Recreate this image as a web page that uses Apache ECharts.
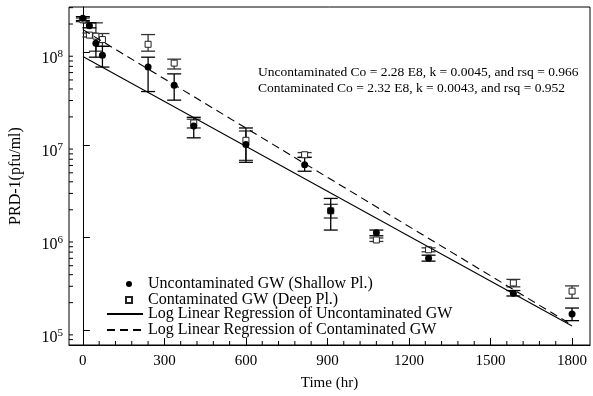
<!DOCTYPE html>
<html>
<head>
<meta charset="utf-8">
<script src="https://cdn.jsdelivr.net/npm/echarts@6/dist/echarts.min.js"></script>
<style>
  html, body { margin: 0; padding: 0; background: #fff; }
  #chart { width: 593px; height: 396px; }
</style>
</head>
<body>
<div id="chart"></div>
<script>
// Sampling times (hr)
const hours = [0, 24, 48, 72, 240, 336, 408, 600, 816, 912, 1080, 1272, 1584, 1800];

// Uncontaminated groundwater (shallow plume), PRD-1 pfu/ml
const uncontaminated     = [2.31e8, 1.92e8, 1.24e8, 9.23e7, 6.88e7, 4.37e7, 1.60e7, 1.01e7, 6.12e6, 1.95e6, 1.13e6, 6.03e5, 2.52e5, 1.51e5];
const uncontaminatedLow  = [2.18e8, 1.82e8, 8.79e7, 6.88e7, 3.75e7, 3.03e7, 1.19e7, 6.49e6, 5.20e6, 1.21e6, 1.05e6, 5.60e5, 2.36e5, 1.28e5];
const uncontaminatedHigh = [2.40e8, 2.06e8, 1.43e8, 1.15e8, 8.79e7, 5.81e7, 1.98e7, 1.52e7, 7.33e6, 2.65e6, 1.21e6, 6.49e5, 2.70e5, 1.75e5];

// Contaminated groundwater (deep plume), PRD-1 pfu/ml
const contaminated     = [2.22e8, 1.52e8, 1.48e8, 1.36e8, 1.21e8, 7.59e7, 1.72e7, 1.12e7, 7.82e6, 1.95e6, 9.46e5, 7.42e5, 3.26e5, 2.66e5];
const contaminatedLow  = [2.12e8, 1.45e8, 1.02e8, 1.15e8, 1.02e8, 6.56e7, 1.52e7, 6.81e6, 7.33e6, 1.63e6, 9.12e5, 7.06e5, 2.96e5, 2.23e5];
const contaminatedHigh = [2.32e8, 1.60e8, 2.06e8, 1.58e8, 1.54e8, 8.37e7, 1.89e7, 1.41e7, 8.26e6, 2.29e6, 9.94e5, 7.78e5, 3.56e5, 3.03e5];

// Log-linear regression lines (end points)
const fitHours = [0, 1800];
const fitUncontaminated = [8.94e7, 1.12e5];
const fitContaminated   = [1.74e8, 1.15e5];

// Axis ticks
const xTickValues = [0, 300, 600, 900, 1200, 1500, 1800];

const annotationLines = [
  'Uncontaminated Co = 2.28 E8, k = 0.0045, and rsq = 0.966',
  'Contaminated Co = 2.32 E8, k = 0.0043, and rsq = 0.952'
];

const NAME_UNC = 'Uncontaminated GW (Shallow Pl.)';
const NAME_CON = 'Contaminated GW (Deep Pl.)';
const NAME_FIT_UNC = 'Log Linear Regression of Uncontaminated GW';
const NAME_FIT_CON = 'Log Linear Regression of Contaminated GW';

const X_MIN = -51, X_MAX = 1866;
const Y_MIN = 7.0e4, Y_MAX = 3.05e8;
const FONT = '"Liberation Serif", "DejaVu Serif", serif';

// minor tick positions
const xMinorTicks = [];
for (let t = 60; t < 1800; t += 60) if (t % 300 !== 0) xMinorTicks.push(t);
const yMinorTicks = [];
for (let d = 4; d <= 8; d++) {
  for (let m = 2; m <= 9; m++) {
    const v = m * Math.pow(10, d);
    if (v > Y_MIN && v < Y_MAX) yMinorTicks.push(v);
  }
}

const pairs = (xs, ys) => xs.map((x, i) => [x, ys[i]]);
const bars = (xs, lo, hi) => xs.map((x, i) => [x, lo[i], hi[i]]);

function errorBar(color) {
  return function (params, api) {
    const x = api.value(0);
    const pLo = api.coord([x, api.value(1)]);
    const pHi = api.coord([x, api.value(2)]);
    const w = 7;
    const st = { stroke: color, lineWidth: 1.3 };
    return {
      type: 'group',
      children: [
        { type: 'line', shape: { x1: pLo[0], y1: pLo[1], x2: pHi[0], y2: pHi[1] }, style: st },
        { type: 'line', shape: { x1: pLo[0] - w, y1: pLo[1], x2: pLo[0] + w, y2: pLo[1] }, style: st },
        { type: 'line', shape: { x1: pHi[0] - w, y1: pHi[1], x2: pHi[0] + w, y2: pHi[1] }, style: st }
      ]
    };
  };
}

const legendText = { fontFamily: FONT, fontSize: 16, color: '#000', lineHeight: 14 };
const hiddenDot = { color: 'rgba(0,0,0,0)', borderColor: 'rgba(0,0,0,0)', borderWidth: 0 };

const chart = echarts.init(document.getElementById('chart'), null, { renderer: 'canvas' });

chart.setOption({
  animation: false,
  backgroundColor: '#fff',
  textStyle: { fontFamily: FONT },
  grid: { left: 66, right: 3, top: 7, bottom: 48, show: true, borderColor: '#000', borderWidth: 1, backgroundColor: 'transparent' },
  xAxis: {
    type: 'value',
    min: X_MIN, max: X_MAX,
    name: 'Time (hr)',
    nameLocation: 'middle',
    nameGap: 31,
    nameTextStyle: { fontFamily: FONT, fontSize: 15, color: '#000' },
    axisLine: { show: true, lineStyle: { color: '#000', width: 1 } },
    axisTick: { show: true, inside: true, length: 7, lineStyle: { color: '#000' }, customValues: xTickValues },
    axisLabel: {
      show: true, color: '#000', fontFamily: FONT, fontSize: 15, margin: 9,
      customValues: xTickValues,
      formatter: v => String(v)
    },
    splitLine: { show: false }
  },
  yAxis: {
    type: 'log',
    logBase: 10,
    min: Y_MIN, max: Y_MAX,
    name: 'PRD-1(pfu/ml)',
    nameLocation: 'middle',
    nameGap: 45,
    nameTextStyle: { fontFamily: FONT, fontSize: 16, color: '#000' },
    axisLine: { show: true, lineStyle: { color: '#000', width: 1 } },
    axisTick: { show: true, inside: true, length: 7, lineStyle: { color: '#000' } },
    axisLabel: {
      show: true, margin: 6, color: '#000',
      padding: [14, 0, 0, 0],
      showMinLabel: false, showMaxLabel: false,
      formatter: function (v) {
        const e = Math.log10(v);
        if (Math.abs(e - Math.round(e)) > 1e-6) return '';
        return '{b|10}{s|' + Math.round(e) + '}';
      },
      rich: {
        b: { fontFamily: FONT, fontSize: 16, color: '#000' },
        s: { fontFamily: FONT, fontSize: 11, color: '#000', padding: [0, 0, 10, 0] }
      }
    },
    splitLine: { show: false }
  },
  legend: [
    {
      orient: 'vertical',
      left: 125, top: 276, padding: 0,
      itemWidth: 6, itemHeight: 6, itemGap: 0,
      textStyle: Object.assign({ padding: [0, 0, 0, 11] }, legendText),
      data: [
        { name: NAME_UNC, icon: 'circle' },
        { name: NAME_CON, icon: 'rect' }
      ]
    },
    {
      orient: 'vertical',
      left: 106, top: 306, padding: 0,
      itemWidth: 36, itemHeight: 2, itemGap: 0,
      textStyle: legendText,
      data: [
        { name: NAME_FIT_UNC, itemStyle: hiddenDot },
        { name: NAME_FIT_CON, itemStyle: hiddenDot }
      ]
    }
  ],
  graphic: annotationLines.map((t, i) => ({
    type: 'text',
    left: 258, top: 65 + i * 16,
    style: { text: t, fontFamily: FONT, fontSize: 13.5, fill: '#000' }
  })),
  series: [
    {
      type: 'custom', name: 'x minor ticks', silent: true,
      data: xMinorTicks.map(t => [t, Y_MIN]),
      renderItem: function (params, api) {
        const p = api.coord([api.value(0), Y_MIN]);
        return { type: 'line', shape: { x1: p[0], y1: p[1], x2: p[0], y2: p[1] - 4 }, style: { stroke: '#000', lineWidth: 1 } };
      }
    },
    {
      type: 'custom', name: 'y minor ticks', silent: true,
      data: yMinorTicks.map(v => [X_MIN, v]),
      renderItem: function (params, api) {
        const p = api.coord([X_MIN, api.value(1)]);
        return { type: 'line', shape: { x1: p[0], y1: p[1], x2: p[0] + 4, y2: p[1] }, style: { stroke: '#000', lineWidth: 1 } };
      }
    },
    {
      name: NAME_FIT_UNC,
      type: 'line', symbol: 'none',
      data: pairs(fitHours, fitUncontaminated),
      lineStyle: { color: '#000', width: 1.1, type: 'solid' },
      itemStyle: { color: '#000' }
    },
    {
      name: NAME_FIT_CON,
      type: 'line', symbol: 'none',
      data: pairs(fitHours, fitContaminated),
      lineStyle: { color: '#000', width: 1.1, type: [8, 5] },
      itemStyle: { color: '#000' }
    },
    {
      type: 'custom', name: 'contaminated error', silent: true,
      data: bars(hours, contaminatedLow, contaminatedHigh),
      renderItem: errorBar('#333')
    },
    {
      type: 'custom', name: 'uncontaminated error', silent: true,
      data: bars(hours, uncontaminatedLow, uncontaminatedHigh),
      renderItem: errorBar('#000')
    },
    {
      name: NAME_CON,
      type: 'scatter', symbol: 'rect', symbolSize: 6,
      data: pairs(hours, contaminated),
      itemStyle: { color: '#fff', borderColor: '#222', borderWidth: 1, opacity: 1 }
    },
    {
      name: NAME_UNC,
      type: 'scatter', symbol: 'circle', symbolSize: 7,
      data: pairs(hours, uncontaminated),
      itemStyle: { color: '#000', opacity: 1 }
    }
  ]
});
</script>
</body>
</html>
